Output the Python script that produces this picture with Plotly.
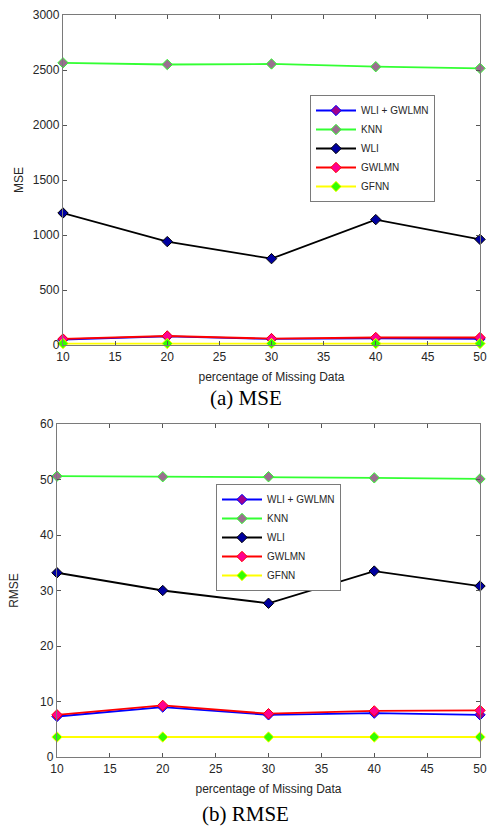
import plotly.graph_objects as go

x = [10, 20, 30, 40, 50]
names = ["WLI + GWLMN", "KNN", "WLI", "GWLMN", "GFNN"]
mse = {
    "WLI + GWLMN": [50, 78, 55, 60, 55],
    "KNN": [2565, 2550, 2555, 2530, 2515],
    "WLI": [1200, 940, 785, 1140, 960],
    "GWLMN": [55, 82, 58, 68, 68],
    "GFNN": [13, 13, 13, 13, 13],
}
rmse = {
    "WLI + GWLMN": [7.3, 9.0, 7.6, 7.9, 7.6],
    "KNN": [50.6, 50.5, 50.5, 50.3, 50.1],
    "WLI": [33.2, 30.0, 27.7, 33.5, 30.8],
    "GWLMN": [7.6, 9.3, 7.8, 8.3, 8.4],
    "GFNN": [3.6, 3.6, 3.6, 3.6, 3.6],
}
mse_ticks = [0, 500, 1000, 1500, 2000, 2500, 3000]
rmse_ticks = [0, 10, 20, 30, 40, 50, 60]
x_ticks = [10, 15, 20, 25, 30, 35, 40, 45, 50]

line_col = {"WLI + GWLMN": "#0000ff", "KNN": "#33ff33", "WLI": "#000000",
            "GWLMN": "#ff0000", "GFNN": "#ffff00"}
mk_fill = {"WLI + GWLMN": "#a0008f", "KNN": "#9a6f8f", "WLI": "#0000a0",
           "GWLMN": "#ff0090", "GFNN": "#33ff00"}

fig = go.Figure()
for key, data, xa, ya, lg in [("a", mse, "x", "y", "legend"), ("b", rmse, "x2", "y2", "legend2")]:
    for n in names:
        fig.add_trace(go.Scatter(
            x=x, y=data[n], name=n, mode="lines+markers", xaxis=xa, yaxis=ya,
            legend=lg, cliponaxis=False,
            line=dict(color=line_col[n], width=1.8),
            marker=dict(symbol="diamond", size=8, color=mk_fill[n],
                        line=dict(color=line_col[n], width=1))))

axis_common = dict(showline=True, linecolor="#7a7a7a", linewidth=1.3, mirror="ticks",
                   ticks="inside", ticklen=4, tickcolor="#555555", showgrid=False,
                   zeroline=False, automargin=False,
                   tickfont=dict(family="Liberation Sans, Arial", size=12, color="#262626"))
W, H = 491, 830
title_font = dict(family="Liberation Sans, Arial", size=12, color="#262626")
legend_common = dict(xanchor="left", yanchor="top", bordercolor="#7a7a7a", borderwidth=1,
                     bgcolor="white", font=dict(size=10, color="#262626"),
                     tracegroupgap=0, itemwidth=40)
cap_font = dict(family="Liberation Serif, Times New Roman", size=21, color="#000000")
fig.update_layout(
    width=W, height=H, margin=dict(l=0, r=0, t=0, b=0, autoexpand=False),
    paper_bgcolor="white", plot_bgcolor="white",
    font=dict(family="Liberation Sans, Arial", size=12, color="#262626"),
    xaxis=dict(domain=[63 / W, 480 / W], range=[10, 50], tickvals=x_ticks, anchor="y",
               title=dict(text="percentage of Missing Data", standoff=10, font=title_font), **axis_common),
    yaxis=dict(domain=[1 - 345 / H, 1 - 15 / H], range=[0, 3000], tickvals=mse_ticks, anchor="x",
               title=dict(text="MSE", standoff=6, font=title_font), **axis_common),
    xaxis2=dict(domain=[57 / W, 480 / W], range=[10, 50], tickvals=x_ticks, anchor="y2",
                title=dict(text="percentage of Missing Data", standoff=10, font=title_font), **axis_common),
    yaxis2=dict(domain=[1 - 757 / H, 1 - 424 / H], range=[0, 60], tickvals=rmse_ticks, anchor="x2",
                title=dict(text="RMSE", standoff=18, font=title_font), **axis_common),
    legend=dict(x=310 / W, y=1 - 95 / H, **legend_common),
    legend2=dict(x=216 / W, y=1 - 484 / H, **legend_common),
    annotations=[
        dict(text="(a) MSE", x=0.5, y=1 - 398 / H, xref="paper", yref="paper",
             xanchor="center", yanchor="middle", showarrow=False, font=cap_font),
        dict(text="(b) RMSE", x=0.5, y=1 - 814 / H, xref="paper", yref="paper",
             xanchor="center", yanchor="middle", showarrow=False, font=cap_font),
    ],
)
fig.write_html("out.html")
